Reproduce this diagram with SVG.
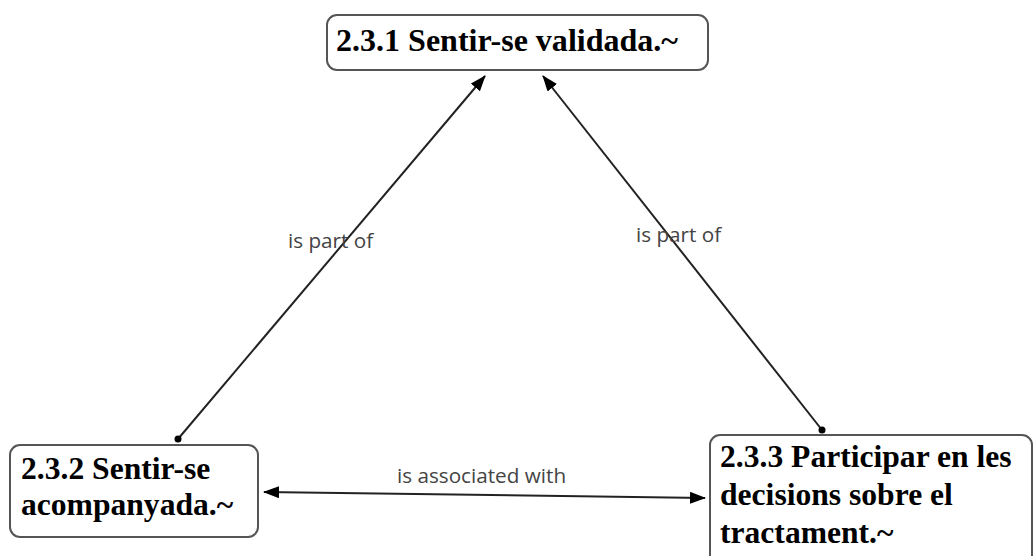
<svg xmlns="http://www.w3.org/2000/svg" width="1034" height="556" viewBox="0 0 1034 556">
<style>
.node{fill:#fff;stroke:#555;stroke-width:2}
.nt{font-family:"Liberation Serif","Times New Roman",serif;font-weight:bold;font-size:31.6px;fill:#000}
.edge{stroke:#222;stroke-width:2;fill:none}
.lbl{font-family:"Open Sans","DejaVu Sans",sans-serif;font-size:20.7px;fill:#444}
</style>
<defs>
<marker id="arr" viewBox="0 0 16 12" refX="15" refY="6" markerWidth="16" markerHeight="12" markerUnits="userSpaceOnUse" orient="auto-start-reverse">
<path d="M0,0 L16,6 L0,12 Z" fill="#000"/>
</marker>
</defs>
<rect width="1034" height="556" fill="#fff"/>
<g id="connectors">
<line class="edge" x1="178" y1="439" x2="485" y2="76" marker-end="url(#arr)"/>
<circle cx="178" cy="439" r="3.5" fill="#000"/>
<line class="edge" x1="822" y1="430" x2="543" y2="76" marker-end="url(#arr)"/>
<circle cx="822" cy="430" r="3.5" fill="#000"/>
<line class="edge" x1="264" y1="492" x2="705" y2="498" marker-start="url(#arr)" marker-end="url(#arr)"/>
<text class="lbl" x="288" y="248">is part of</text>
<text class="lbl" x="636" y="242">is part of</text>
<text class="lbl" x="397" y="483">is associated with</text>
</g>
<g id="node1">
<rect class="node" x="327" y="15" width="381" height="55" rx="10"/>
<text class="nt" x="336" y="51" textLength="342" lengthAdjust="spacingAndGlyphs">2.3.1 Sentir-se validada.~</text>
</g>
<g id="node2">
<rect class="node" x="10" y="445" width="248" height="92" rx="10"/>
<text class="nt" x="21" y="479">2.3.2 Sentir-se</text>
<text class="nt" x="21" y="515">acompanyada.~</text>
</g>
<g id="node3">
<rect class="node" x="710" y="435" width="322" height="135" rx="10"/>
<text class="nt" x="720" y="467">2.3.3 Participar en les</text>
<text class="nt" x="720" y="505">decisions sobre el</text>
<text class="nt" x="720" y="543">tractament.~</text>
</g>
</svg>
